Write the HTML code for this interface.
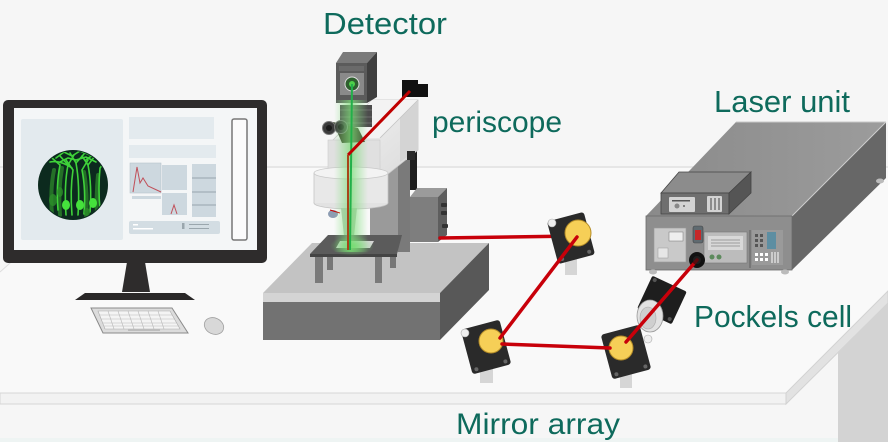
<!DOCTYPE html>
<html><head><meta charset="utf-8"><style>
html,body{margin:0;padding:0;background:#f6f6f6;}
svg{display:block;}
text{font-family:"Liberation Sans",sans-serif;fill:#0e6a5c;}
</style></head><body>
<svg width="888" height="442" viewBox="0 0 888 442" xmlns="http://www.w3.org/2000/svg">
<defs>
<linearGradient id="glow" x1="0" y1="0" x2="1" y2="0">
<stop offset="0" stop-color="#8ee08a" stop-opacity="0"/>
<stop offset="0.5" stop-color="#7ddc78" stop-opacity="0.75"/>
<stop offset="1" stop-color="#8ee08a" stop-opacity="0"/>
</linearGradient>
<radialGradient id="rglow"><stop offset="0" stop-color="#6fdc6a" stop-opacity="0.8"/><stop offset="1" stop-color="#6fdc6a" stop-opacity="0"/></radialGradient>
<clipPath id="cc"><circle cx="73" cy="185" r="34"/></clipPath>
<linearGradient id="ltop" x1="0" y1="0" x2="1" y2="0"><stop offset="0" stop-color="#8a8a8a"/><stop offset="1" stop-color="#9c9c9c"/></linearGradient>
<linearGradient id="arm" x1="0" y1="0" x2="1" y2="1"><stop offset="0" stop-color="#f2f2f2"/><stop offset="1" stop-color="#dcdcdc"/></linearGradient>
</defs>

<!-- background / table -->
<rect x="0" y="0" width="888" height="442" fill="#f6f6f6"/>
<polygon points="118,167 888,167 888,293 786,393 0,393 0,272" fill="#f9f9f9"/>
<line x1="0" y1="167" x2="888" y2="167" stroke="#dcdcdc" stroke-width="1.2"/>
<line x1="0" y1="272" x2="118" y2="167" stroke="#dedede" stroke-width="1"/>
<rect x="0" y="393" width="786" height="11" fill="#f2f2f2" stroke="#d6d6d6" stroke-width="1"/>
<polygon points="786,393 888,291 888,303 786,404" fill="#e2e2e2" stroke="#d2d2d2" stroke-width="1"/>
<polygon points="838,353 888,303 888,442 838,442" fill="#d3d3d3"/>
<rect x="0" y="438" width="838" height="4" fill="#eef4f3"/>

<!-- monitor -->
<rect x="3" y="100" width="264" height="163" rx="5" fill="#2e2c2c"/>
<rect x="14" y="108" width="243" height="142" fill="#f4f6f7"/>
<rect x="21" y="119" width="102" height="121" rx="2" fill="#e3eaee"/>
<circle cx="73" cy="185" r="35" fill="#0c2a1e"/>
<g clip-path="url(#cc)" fill="none" stroke-linecap="round">
<g stroke="#2f8f2c" stroke-width="4" opacity="0.7">
<path d="M52 215 Q50 190 54 170"/><path d="M60 215 Q58 190 62 168"/><path d="M86 218 Q88 195 84 172"/><path d="M97 215 Q96 195 98 175"/>
</g>
<g stroke="#3fd23a" stroke-width="1.6">
<path d="M66 215 Q64 185 68 165 L60 156"/><path d="M68 165 L74 155"/>
<path d="M72 215 Q70 190 73 170 L66 160"/>
<path d="M78 215 Q80 185 76 163 L70 153"/><path d="M76 163 L84 154"/>
<path d="M84 214 Q86 190 82 170 L88 160"/>
<path d="M90 212 Q92 185 88 165 L95 156"/><path d="M88 165 L82 156"/>
<path d="M100 210 Q98 188 100 168 L106 160"/>
<path d="M58 210 Q56 185 60 165 L52 158"/>
<path d="M72 168 Q60 160 50 162"/><path d="M86 160 Q94 152 102 158"/>
<path d="M56 158 L64 152 L72 156 L80 151 L90 155 L98 152"/>
<path d="M60 162 L68 158 L76 160 L86 157 L96 162"/>
</g>
<g fill="#45e23c" stroke="none">
<ellipse cx="66" cy="205" rx="4" ry="5"/><ellipse cx="80" cy="205" rx="4" ry="5"/><ellipse cx="93" cy="203" rx="4" ry="5"/>
</g>
<g fill="#2c8f2a" stroke="none" opacity="0.8">
<ellipse cx="53" cy="200" rx="4" ry="6"/><ellipse cx="60" cy="192" rx="3" ry="5"/><ellipse cx="87" cy="212" rx="3" ry="4"/>
</g>
</g>
<rect x="129" y="117" width="85" height="22" fill="#e3eaee"/>
<rect x="129" y="145" width="87" height="13" fill="#e3eaee"/>
<rect x="130" y="163" width="31" height="30" fill="#cdd8df" stroke="#b8c4cc" stroke-width="0.6"/>
<path d="M133 192 L137 167 L140 183 L143 178 L148 186 L161 192" fill="none" stroke="#c0505a" stroke-width="1"/>
<rect x="132" y="196" width="29" height="3" fill="#cdd8df"/>
<rect x="162" y="165" width="25" height="25" fill="#cdd8df"/>
<rect x="162" y="193" width="25" height="22" fill="#cdd8df"/>
<path d="M171 214 L174 205 L177 214" fill="none" stroke="#c0505a" stroke-width="1"/>
<rect x="192" y="164" width="24" height="53" fill="#cdd8df"/>
<g stroke="#97a5ae" stroke-width="1"><line x1="192" y1="178" x2="216" y2="178"/><line x1="192" y1="192" x2="216" y2="192"/><line x1="192" y1="205" x2="216" y2="205"/></g>
<rect x="129" y="221" width="91" height="13" rx="2" fill="#d3dde3"/>
<rect x="133" y="224" width="5" height="1.5" fill="#fff"/><rect x="133" y="228" width="20" height="1.5" fill="#fff"/>
<rect x="182" y="223" width="2.5" height="6" fill="#9aa6ad"/>
<rect x="189" y="224" width="20" height="1" fill="#9aa6ad"/><rect x="189" y="228" width="20" height="1" fill="#9aa6ad"/>
<rect x="232" y="119" width="15" height="121" rx="2" fill="#fbfbfb" stroke="#777" stroke-width="1.5"/>
<polygon points="127,262 145,262 150,292 122,292" fill="#2e2c2c"/>
<polygon points="85,293 185,293 195,300 75,300" fill="#2a2828"/>

<!-- keyboard & mouse -->
<polygon points="91,308 172,308 188,333 103,333" fill="#dcdcdc" stroke="#8a8a8a" stroke-width="1"/>
<polygon points="98,311 170,311 180,329 105,329" fill="#f4f4f4" stroke="#aaa" stroke-width="0.6"/>
<g stroke="#b8b8b8" stroke-width="0.6">
<line x1="99" y1="315" x2="172" y2="315"/><line x1="101" y1="319" x2="175" y2="319"/><line x1="103" y1="323" x2="177" y2="323"/><line x1="104" y1="326" x2="179" y2="326"/>
<line x1="108" y1="311" x2="114" y2="329"/><line x1="118" y1="311" x2="124" y2="329"/><line x1="128" y1="311" x2="134" y2="329"/><line x1="138" y1="311" x2="144" y2="329"/><line x1="148" y1="311" x2="154" y2="329"/><line x1="158" y1="311" x2="164" y2="329"/>
</g>
<rect x="128" y="329" width="32" height="2" fill="#bdbdbd"/>
<ellipse cx="214" cy="326" rx="10" ry="8" transform="rotate(25 214 326)" fill="#d8d8d8" stroke="#a0a0a0" stroke-width="0.8"/>

<!-- microscope base -->
<polygon points="263,293 312,243 489,243 440,293" fill="#c3c3c3"/>
<polygon points="440,293 489,243 489,290 440,340" fill="#585858"/>
<rect x="263" y="293" width="177" height="9" fill="#d4d4d4"/>
<rect x="263" y="302" width="177" height="38" fill="#727272"/>
<!-- column & controller box -->
<rect x="370" y="160" width="40" height="92" fill="#9a9a9a"/>
<rect x="398" y="160" width="12" height="92" fill="#7a7a7a"/>
<rect x="410" y="140" width="7" height="50" fill="#1e1e1e"/>
<polygon points="410,197 417,188 447,188 438,197" fill="#9b9b9b"/>
<rect x="410" y="197" width="28" height="45" fill="#7e7e7e"/>
<polygon points="438,197 447,188 447,235 438,242" fill="#5e5e5e"/>
<g fill="#333"><rect x="441" y="203" width="6" height="4" rx="1"/><rect x="441" y="211" width="6" height="4" rx="1"/><rect x="442" y="224" width="6" height="4" rx="1"/></g>
<!-- arm -->
<polygon points="333,140 372,100 418,100 418,150 388,174 333,174" fill="url(#arm)" stroke="#c8c8c8" stroke-width="0.8"/>
<polygon points="372,100 418,100 380,138 336,138" fill="#f3f3f3"/>
<polygon points="400,118 418,100 418,150 400,162" fill="#d4d4d4"/>
<line x1="380" y1="138" x2="418" y2="100" stroke="#c4c4c4" stroke-width="0.8"/>
<rect x="407" y="151" width="8" height="9" fill="#2a2a2a"/>
<rect x="402" y="80" width="16" height="17" fill="#111"/><rect x="417" y="84" width="11" height="13" fill="#111"/>
<!-- upper body -->
<rect x="328" y="140" width="52" height="30" fill="#e0e0e0" stroke="#cacaca" stroke-width="0.6"/>
<!-- cylinder -->
<ellipse cx="351" cy="203" rx="37" ry="6" fill="#e2e2e2" stroke="#c4c4c4" stroke-width="0.8"/>
<rect x="314" y="173" width="74" height="30" fill="#e8e8e8"/>
<line x1="314" y1="173" x2="314" y2="203" stroke="#c4c4c4" stroke-width="0.8"/>
<line x1="388" y1="173" x2="388" y2="203" stroke="#c4c4c4" stroke-width="0.8"/>
<ellipse cx="351" cy="173" rx="37" ry="6" fill="#f3f3f3" stroke="#c8c8c8" stroke-width="0.8"/>
<!-- objective -->
<polygon points="341,208 357,208 354,236 344,236" fill="#b9c9b9"/>
<ellipse cx="333" cy="214" rx="5" ry="4" fill="#8c9cb2"/>
<line x1="330" y1="210" x2="340" y2="213" stroke="#c00" stroke-width="1"/>
<!-- stage -->
<rect x="327" y="250" width="6" height="20" fill="#777"/><rect x="390" y="248" width="6" height="20" fill="#777"/>
<polygon points="310,254 397,254 402,235 328,235" fill="#5b5b5b"/>
<rect x="310" y="254" width="87" height="3" fill="#444"/>
<polygon points="336,248 370,248 374,241 340,241" fill="#d6d6d6"/>
<rect x="315" y="257" width="8" height="26" fill="#7a7a7a"/><rect x="375" y="257" width="7" height="26" fill="#7a7a7a"/>
<!-- detector -->
<polygon points="336,63 343,52 377,52 367,63" fill="#7a7a7a"/>
<rect x="336" y="63" width="31" height="40" fill="#5b5b5b"/>
<polygon points="367,63 377,52 377,97 367,103" fill="#3f3f3f"/>
<rect x="339" y="66" width="25" height="5" fill="#6a6a6a"/>
<rect x="340" y="73" width="24" height="22" fill="#8a8a8a"/>
<circle cx="352" cy="84" r="7" fill="#2f5f2f" stroke="#ddd" stroke-width="1"/>
<circle cx="352" cy="84" r="3" fill="#4fd04a"/>
<!-- rings -->
<rect x="340" y="105" width="32" height="22" fill="#4c4c4c"/>
<g stroke="#6c6c6c" stroke-width="1"><line x1="340" y1="110" x2="372" y2="110"/><line x1="340" y1="117" x2="372" y2="117"/><line x1="340" y1="123" x2="372" y2="123"/></g>
<!-- eyepieces -->
<polygon points="333,122 358,128 365,142 342,143" fill="#3b472c"/>
<circle cx="329" cy="128" r="6.5" fill="#3a3a3a" stroke="#777" stroke-width="1"/><circle cx="329" cy="128" r="3" fill="#1a1a1a"/>
<circle cx="341" cy="127" r="6.5" fill="#3a3a3a" stroke="#777" stroke-width="1"/><circle cx="341" cy="127" r="3" fill="#1a1a1a"/>
<!-- glow -->
<rect x="334" y="100" width="34" height="152" fill="url(#glow)"/>
<ellipse cx="352" cy="246" rx="22" ry="10" fill="url(#rglow)"/>
<!-- beams in microscope -->
<line x1="352" y1="84" x2="350" y2="250" stroke="#22b04a" stroke-width="2"/>
<line x1="410" y1="91" x2="348" y2="155" stroke="#c00000" stroke-width="3"/>
<line x1="348" y1="155" x2="348" y2="250" stroke="#a8461a" stroke-width="2"/>

<!-- red beams between mirrors -->
<g stroke="#c8000a" stroke-width="3.5" stroke-linecap="round" fill="none">
<line x1="440" y1="238" x2="577" y2="236"/>
</g>

<!-- mirror 1 -->
<rect x="565" y="255" width="12" height="20" fill="#d6d6d6"/>
<g transform="translate(571 238) rotate(-15)"><rect x="-19" y="-22" width="38" height="44" rx="3" fill="#2a2a2a"/><circle cx="-14" cy="18" r="2" fill="#666"/><circle cx="14" cy="18" r="2" fill="#666"/></g>
<circle cx="552" cy="223" r="4" fill="#eee" stroke="#aaa" stroke-width="0.6"/>
<circle cx="578" cy="233" r="13" fill="#f6cf57" stroke="#b48c28" stroke-width="1"/>
<!-- mirror 2 -->
<rect x="480" y="363" width="13" height="20" fill="#d6d6d6"/>
<g transform="translate(486 347) rotate(-15)"><rect x="-20" y="-23" width="40" height="46" rx="3" fill="#2a2a2a"/><circle cx="-15" cy="19" r="2" fill="#666"/><circle cx="15" cy="19" r="2" fill="#666"/></g>
<circle cx="465" cy="333" r="4" fill="#eee" stroke="#aaa" stroke-width="0.6"/>
<circle cx="491" cy="341" r="12" fill="#f6cf57" stroke="#b48c28" stroke-width="1"/>
<!-- mirror 3 -->
<rect x="620" y="368" width="12" height="20" fill="#d6d6d6"/>
<g transform="translate(626 352) rotate(-15)"><rect x="-20" y="-23" width="40" height="46" rx="3" fill="#2a2a2a"/><circle cx="-15" cy="19" r="2" fill="#666"/><circle cx="15" cy="19" r="2" fill="#666"/></g>
<circle cx="648" cy="339" r="4" fill="#eee" stroke="#aaa" stroke-width="0.6"/>
<circle cx="621" cy="348" r="12" fill="#f6cf57" stroke="#b48c28" stroke-width="1"/>

<g stroke="#c8000a" stroke-width="3.5" stroke-linecap="round" fill="none">
<line x1="577" y1="237" x2="500" y2="338"/>
<line x1="502" y1="344" x2="610" y2="348"/>
</g>

<!-- laser unit -->
<polygon points="646,216 736,122 886,122 792,216" fill="url(#ltop)"/>
<polygon points="792,216 886,122 886,178 792,270" fill="#676767"/>
<line x1="792" y1="216" x2="886" y2="122" stroke="#cfcfcf" stroke-width="1"/>
<line x1="736" y1="122" x2="886" y2="122" stroke="#c8c8c8" stroke-width="1"/>
<rect x="646" y="216" width="146" height="54" fill="#8e8e8e" stroke="#6c6c6c" stroke-width="0.8"/>
<ellipse cx="653" cy="272" rx="4" ry="2.5" fill="#bbb"/><ellipse cx="785" cy="272" rx="4" ry="2.5" fill="#bbb"/><ellipse cx="880" cy="181" rx="4" ry="2.5" fill="#bbb"/>
<!-- small box -->
<polygon points="661,193 679,172 751,172 729,193" fill="#8c8c8c" stroke="#444" stroke-width="0.8"/>
<rect x="661" y="193" width="68" height="21" fill="#6f6f6f" stroke="#444" stroke-width="0.8"/>
<polygon points="729,193 751,172 751,193 729,214" fill="#555" stroke="#444" stroke-width="0.8"/>
<rect x="669" y="197" width="26" height="15" rx="1" fill="#d3d3d3"/>
<rect x="672" y="200" width="18" height="1.5" fill="#555"/><circle cx="677" cy="206" r="2.5" fill="#888"/><circle cx="684" cy="206" r="1" fill="#666"/>
<rect x="707" y="196" width="15" height="16" rx="1" fill="#d3d3d3"/>
<g stroke="#444" stroke-width="1"><line x1="711" y1="198" x2="711" y2="210"/><line x1="715" y1="198" x2="715" y2="210"/><line x1="719" y1="198" x2="719" y2="210"/></g>
<!-- front panels -->
<rect x="654" y="228" width="32" height="34" fill="#c9c9c9" stroke="#999" stroke-width="0.6"/>
<rect x="669" y="232" width="14" height="9" fill="#eee" stroke="#777" stroke-width="0.5"/>
<rect x="658" y="248" width="10" height="10" fill="#e6e6e6" stroke="#999" stroke-width="0.5"/>
<rect x="693" y="226" width="10" height="17" rx="2" fill="#5f6a70" stroke="#444" stroke-width="0.6"/>
<rect x="695" y="230" width="6" height="10" fill="#c62828"/>
<rect x="704" y="232" width="43" height="31" fill="#bcbcbc" stroke="#777" stroke-width="0.6"/>
<rect x="708" y="236" width="35" height="14" fill="#d8d8d8"/>
<g stroke="#888" stroke-width="0.8"><line x1="711" y1="240" x2="740" y2="240"/><line x1="711" y1="243" x2="740" y2="243"/><line x1="711" y1="246" x2="740" y2="246"/></g>
<circle cx="712" cy="257" r="2.5" fill="#5c8a5c"/><circle cx="719" cy="257" r="2.5" fill="#5c8a5c"/>
<line x1="750" y1="230" x2="750" y2="268" stroke="#555" stroke-width="0.8"/>
<rect x="752" y="230" width="31" height="35" fill="#9a9a9a"/>
<g fill="#555"><rect x="755" y="234" width="3" height="3"/><rect x="760" y="234" width="3" height="3"/><rect x="755" y="239" width="3" height="3"/><rect x="760" y="239" width="3" height="3"/><rect x="755" y="244" width="3" height="3"/><rect x="760" y="244" width="3" height="3"/></g>
<rect x="767" y="232" width="9" height="17" fill="#5d8ea2"/>
<g fill="#fff"><rect x="755" y="253" width="3" height="3"/><rect x="760" y="253" width="3" height="3"/><rect x="765" y="253" width="3" height="3"/><rect x="755" y="258" width="3" height="3"/><rect x="760" y="258" width="3" height="3"/><rect x="765" y="258" width="3" height="3"/></g>
<g stroke="#fff" stroke-width="1"><line x1="772" y1="252" x2="772" y2="263"/><line x1="775" y1="252" x2="775" y2="263"/><line x1="778" y1="252" x2="778" y2="263"/></g>
<circle cx="697" cy="260" r="8" fill="#111"/><circle cx="697" cy="260" r="4" fill="#333"/>

<!-- pockels cell -->
<g transform="translate(662 300) rotate(25)"><rect x="-19" y="-18" width="38" height="36" rx="2" fill="#1e1e1e"/><circle cx="-15" cy="-15" r="2" fill="#555"/><circle cx="15" cy="14" r="2" fill="#555"/></g>
<ellipse cx="650" cy="316" rx="13" ry="16" fill="#e2e2e2" stroke="#999" stroke-width="0.8"/>
<ellipse cx="648" cy="318" rx="8" ry="11" fill="#cfcfcf" stroke="#aaa" stroke-width="0.6"/>
<line x1="626" y1="342" x2="697" y2="260" stroke="#c8000a" stroke-width="3.5" stroke-linecap="round"/>
<circle cx="697" cy="260" r="5" fill="#111" opacity="0.6"/>

<!-- labels -->
<text x="323" y="34" font-size="31" textLength="124" lengthAdjust="spacingAndGlyphs">Detector</text>
<text x="432" y="132" font-size="30" textLength="130" lengthAdjust="spacingAndGlyphs">periscope</text>
<text x="714" y="112" font-size="31" textLength="136" lengthAdjust="spacingAndGlyphs">Laser unit</text>
<text x="694" y="327" font-size="31" textLength="158" lengthAdjust="spacingAndGlyphs">Pockels cell</text>
<text x="456" y="434" font-size="30" textLength="164" lengthAdjust="spacingAndGlyphs">Mirror array</text>
</svg>
</body></html>
